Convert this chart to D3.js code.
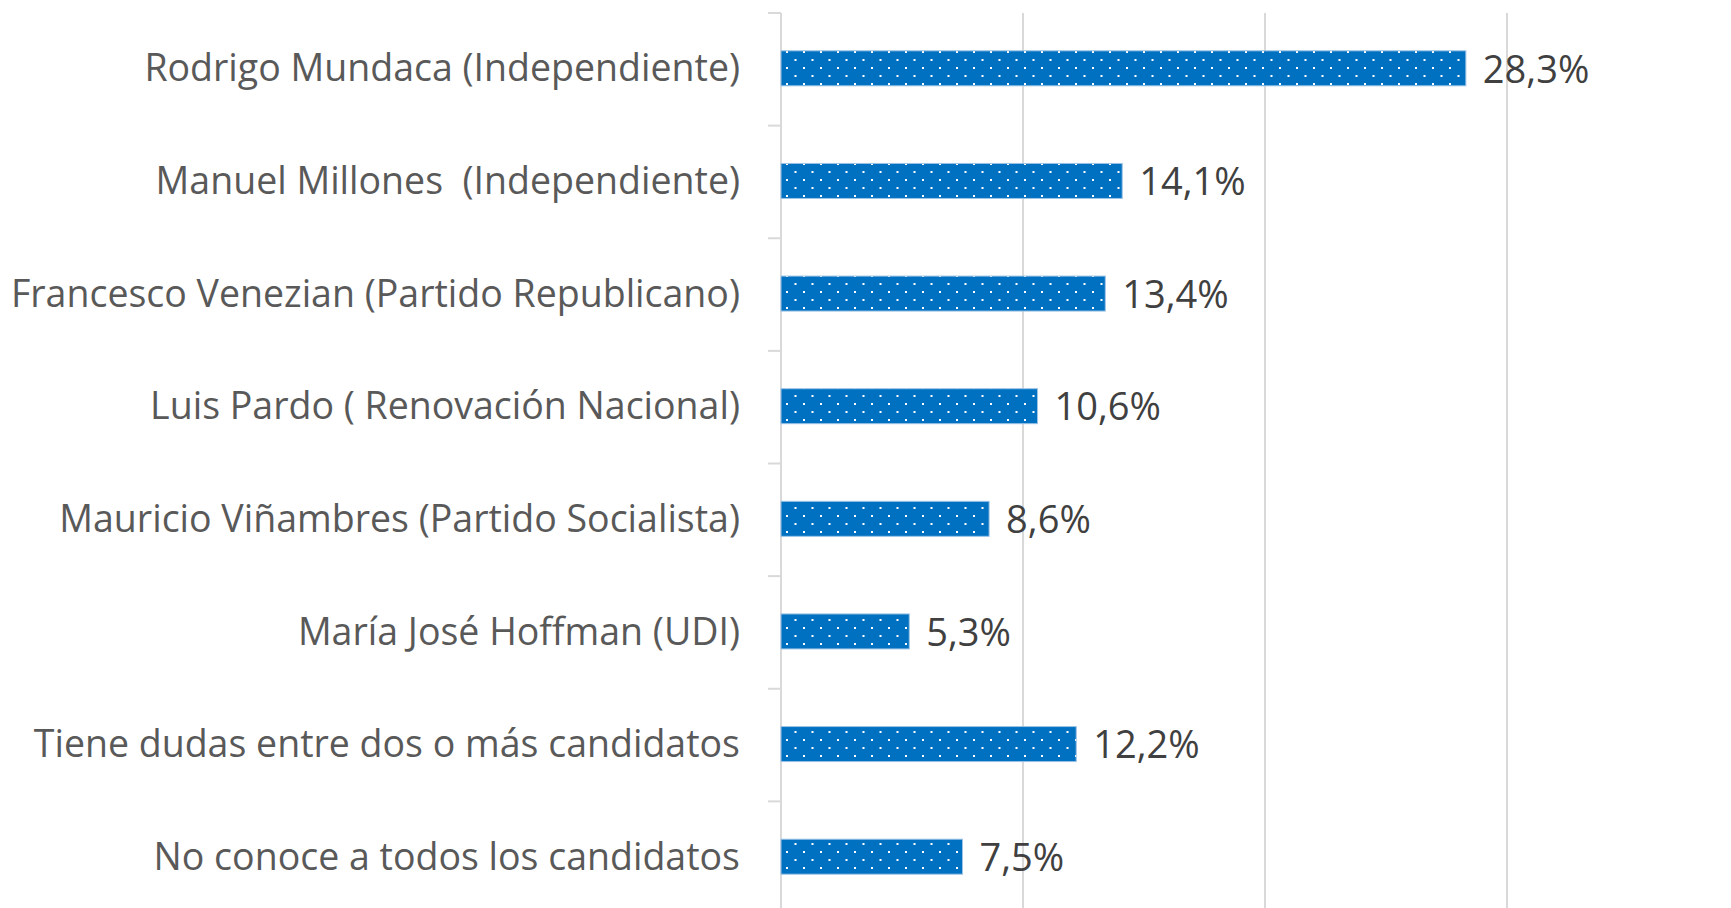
<!DOCTYPE html>
<html>
<head>
<meta charset="utf-8">
<script src="https://cdn.jsdelivr.net/npm/d3@7"></script>
<style>
  body { margin: 0; background: #fff; }
  text { font-family: "Open Sans", sans-serif; white-space: pre; }
</style>
</head>
<body>
<div id="chart"></div>
<script>
var categories = [
  "Rodrigo Mundaca (Independiente)",
  "Manuel Millones  (Independiente)",
  "Francesco Venezian (Partido Republicano)",
  "Luis Pardo ( Renovación Nacional)",
  "Mauricio Viñambres (Partido Socialista)",
  "María José Hoffman (UDI)",
  "Tiene dudas entre dos o más candidatos",
  "No conoce a todos los candidatos"
];
var values = [28.3, 14.1, 13.4, 10.6, 8.6, 5.3, 12.2, 7.5];
var gridTicks = [0, 10, 20, 30];

var width = 1731, height = 908;
var margin = { top: 13, right: 0, bottom: 0, left: 781 };

var svg = d3.select("#chart")
            .append("svg")
            .attr("width", width)
            .attr("height", height);

var defs = svg.append("defs");
var pat = defs.append("pattern")
              .attr("id", "dots")
              .attr("patternUnits", "userSpaceOnUse")
              .attr("width", 17)
              .attr("height", 16);
pat.append("rect").attr("width", 17).attr("height", 16).attr("fill", "#0070C0");
pat.append("rect").attr("x", 4).attr("y", 3).attr("width", 2).attr("height", 2).attr("fill", "#fff");
pat.append("rect").attr("x", 12.5).attr("y", 11).attr("width", 2).attr("height", 2).attr("fill", "#fff");

var x = d3.scaleLinear().domain([0, 30]).range([margin.left, 1507]);
var y = d3.scaleBand().domain(categories).range([margin.top, height + 6]);

var fmt = d3.formatLocale({ decimal: ",", thousands: ".", grouping: [3], currency: ["", ""] }).format(".1f");

// gridlines
svg.append("g").selectAll("line")
   .data(gridTicks.slice(1))
   .enter().append("line")
   .attr("x1", function(d) { return x(d); })
   .attr("x2", function(d) { return x(d); })
   .attr("y1", margin.top)
   .attr("y2", height)
   .attr("stroke", "#d9d9d9")
   .attr("stroke-width", 2);

// category axis line and ticks at band edges
svg.append("line")
   .attr("x1", x(0)).attr("x2", x(0))
   .attr("y1", margin.top).attr("y2", height)
   .attr("stroke", "#d9d9d9").attr("stroke-width", 2);

svg.append("g").selectAll("line")
   .data(categories)
   .enter().append("line")
   .attr("x1", x(0) - 13).attr("x2", x(0))
   .attr("y1", function(d) { return y(d); })
   .attr("y2", function(d) { return y(d); })
   .attr("stroke", "#d9d9d9").attr("stroke-width", 2);

var barH = 35;

var rows = svg.append("g").selectAll(".row")
              .data(categories)
              .enter();

rows.append("rect")
    .attr("x", x(0))
    .attr("y", function(d) { return y(d) + y.bandwidth() / 2 - barH / 2 - 1; })
    .attr("width", function(d, i) { return x(values[i]) - x(0); })
    .attr("height", barH)
    .attr("fill", "url(#dots)")
    .attr("stroke", "#9dc3e6")
    .attr("stroke-width", 1);

rows.append("text")
    .attr("x", 740)
    .attr("y", function(d) { return y(d) + y.bandwidth() / 2 - 1; })
    .attr("dy", "0.35em")
    .attr("text-anchor", "end")
    .attr("font-size", 37.5)
    .attr("fill", "#595959")
    .text(function(d) { return d; });

rows.append("text")
    .attr("x", function(d, i) { return x(values[i]) + 17; })
    .attr("y", function(d) { return y(d) + y.bandwidth() / 2; })
    .attr("dy", "0.35em")
    .attr("font-size", 38)
    .attr("fill", "#404040")
    .text(function(d, i) { return fmt(values[i]) + "%"; });
</script>
</body>
</html>
